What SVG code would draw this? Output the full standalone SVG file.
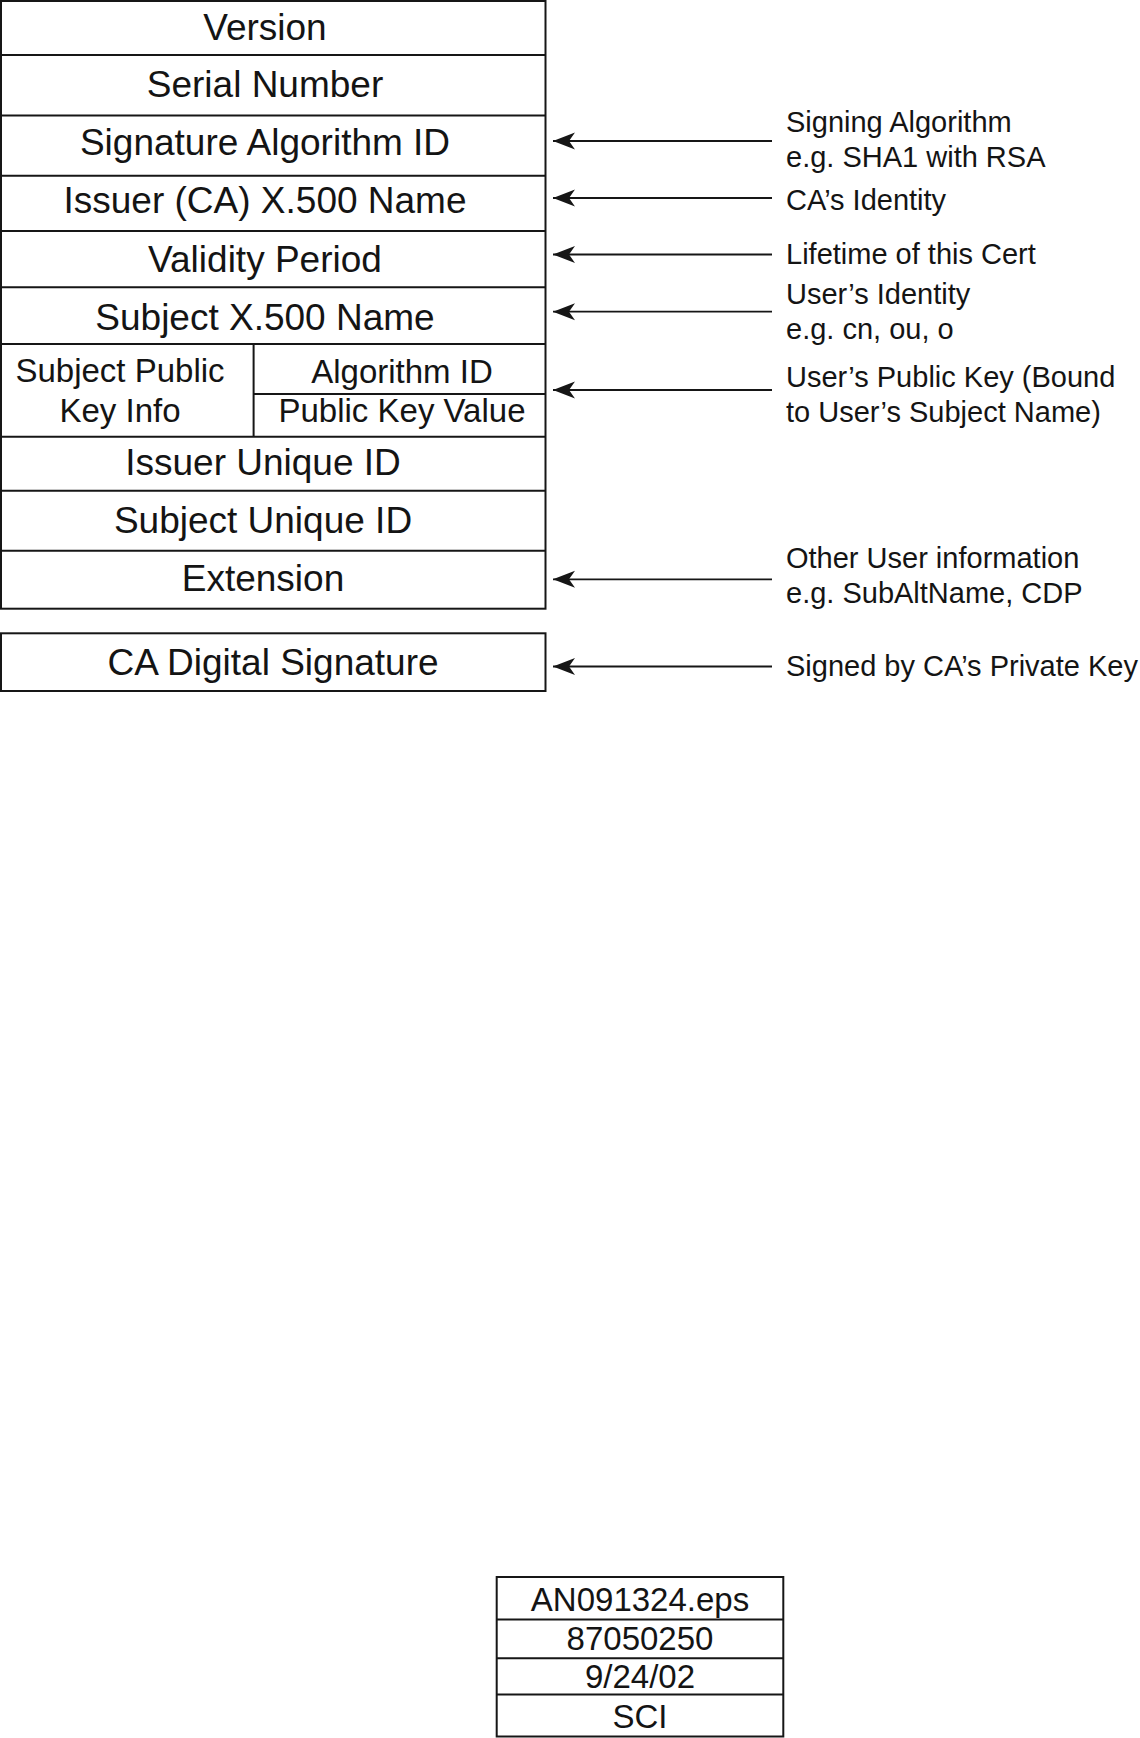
<svg xmlns="http://www.w3.org/2000/svg" width="1140" height="1738" viewBox="0 0 1140 1738">
<defs>
<style>
.ln{stroke:#161616;stroke-width:2;fill:none}
.box{stroke:#161616;stroke-width:2;fill:#fff}
.t{font-family:"Liberation Sans",Arial,Helvetica,sans-serif;fill:#141414}
.big{font-size:37px;text-anchor:middle}
.mid{font-size:33px;text-anchor:middle}
.lab{font-size:29px}
.arr{stroke:#161616;stroke-width:1.8;fill:none}
</style>
<marker id="ah" viewBox="0 0 22 18" refX="22" refY="9" markerWidth="22" markerHeight="18" markerUnits="userSpaceOnUse" orient="auto">
<path d="M22,9 L0,0.5 L6,9 L0,17.5 Z" fill="#161616"/>
</marker>
</defs>
<rect width="1140" height="1738" fill="#fff"/>

<g id="certificate">
<rect class="box" x="1" y="1" width="544.5" height="607.7"/>
<line class="ln" x1="1" y1="55" x2="546" y2="55"/>
<line class="ln" x1="1" y1="115.5" x2="546" y2="115.5"/>
<line class="ln" x1="1" y1="175.7" x2="546" y2="175.7"/>
<line class="ln" x1="1" y1="231" x2="546" y2="231"/>
<line class="ln" x1="1" y1="287.3" x2="546" y2="287.3"/>
<line class="ln" x1="1" y1="344" x2="546" y2="344"/>
<line class="ln" x1="253.6" y1="344" x2="253.6" y2="436.7"/>
<line class="ln" x1="253.6" y1="394" x2="546" y2="394"/>
<line class="ln" x1="1" y1="436.7" x2="546" y2="436.7"/>
<line class="ln" x1="1" y1="490.7" x2="546" y2="490.7"/>
<line class="ln" x1="1" y1="550.7" x2="546" y2="550.7"/>
</g>

<g id="version"><text class="t big" x="265" y="39.5">Version</text></g>
<g id="serial-number"><text class="t big" x="265" y="96.7">Serial Number</text></g>
<g id="signature-algorithm-id"><text class="t big" x="265" y="155">Signature Algorithm ID</text></g>
<g id="issuer-name"><text class="t big" x="265" y="213">Issuer (CA) X.500 Name</text></g>
<g id="validity-period"><text class="t big" x="265" y="271.7">Validity Period</text></g>
<g id="subject-name"><text class="t big" x="265" y="330">Subject X.500 Name</text></g>
<g id="subject-public-key-info">
<text class="t mid" x="120" y="381.7">Subject Public</text>
<text class="t mid" x="120" y="421.5">Key Info</text>
</g>
<g id="algorithm-id"><text class="t mid" x="402" y="382.7">Algorithm ID</text></g>
<g id="public-key-value"><text class="t mid" x="402" y="421.5">Public Key Value</text></g>
<g id="issuer-unique-id"><text class="t big" x="263" y="475">Issuer Unique ID</text></g>
<g id="subject-unique-id"><text class="t big" x="263" y="533">Subject Unique ID</text></g>
<g id="extension"><text class="t big" x="263" y="591">Extension</text></g>

<g id="ca-digital-signature">
<rect class="box" x="1" y="633.3" width="544.5" height="57.7"/>
<text class="t big" x="273" y="675">CA Digital Signature</text>
</g>

<g id="connectors">
<line class="arr" x1="772" y1="141" x2="553" y2="141" marker-end="url(#ah)"/>
<line class="arr" x1="772" y1="198" x2="553" y2="198" marker-end="url(#ah)"/>
<line class="arr" x1="772" y1="254.5" x2="553" y2="254.5" marker-end="url(#ah)"/>
<line class="arr" x1="772" y1="311.7" x2="553" y2="311.7" marker-end="url(#ah)"/>
<line class="arr" x1="772" y1="390" x2="553" y2="390" marker-end="url(#ah)"/>
<line class="arr" x1="772" y1="579.3" x2="553" y2="579.3" marker-end="url(#ah)"/>
<line class="arr" x1="772" y1="666.5" x2="553" y2="666.5" marker-end="url(#ah)"/>
</g>

<g id="label-signing">
<text class="t lab" x="786" y="131.7">Signing Algorithm</text>
<text class="t lab" x="786" y="166.7">e.g. SHA1 with RSA</text>
</g>
<g id="label-ca-identity"><text class="t lab" x="786" y="210">CA’s Identity</text></g>
<g id="label-lifetime"><text class="t lab" x="786" y="264">Lifetime of this Cert</text></g>
<g id="label-user-identity">
<text class="t lab" x="786" y="303.8">User’s Identity</text>
<text class="t lab" x="786" y="339.3">e.g. cn, ou, o</text>
</g>
<g id="label-public-key">
<text class="t lab" x="786" y="386.5">User’s Public Key (Bound</text>
<text class="t lab" x="786" y="422">to User’s Subject Name)</text>
</g>
<g id="label-other">
<text class="t lab" x="786" y="567.5">Other User information</text>
<text class="t lab" x="786" y="603">e.g. SubAltName, CDP</text>
</g>
<g id="label-signed"><text class="t lab" x="786" y="676">Signed by CA’s Private Key</text></g>

<g id="file-info">
<rect class="box" x="496.7" y="1577" width="286.6" height="159.5"/>
<line class="ln" x1="496.7" y1="1619.5" x2="783.3" y2="1619.5"/>
<line class="ln" x1="496.7" y1="1658.3" x2="783.3" y2="1658.3"/>
<line class="ln" x1="496.7" y1="1694.5" x2="783.3" y2="1694.5"/>
<text class="t mid" x="640" y="1610.5">AN091324.eps</text>
<text class="t mid" x="640" y="1649.5">87050250</text>
<text class="t mid" x="640" y="1688">9/24/02</text>
<text class="t mid" x="640" y="1728.3">SCI</text>
</g>
</svg>
